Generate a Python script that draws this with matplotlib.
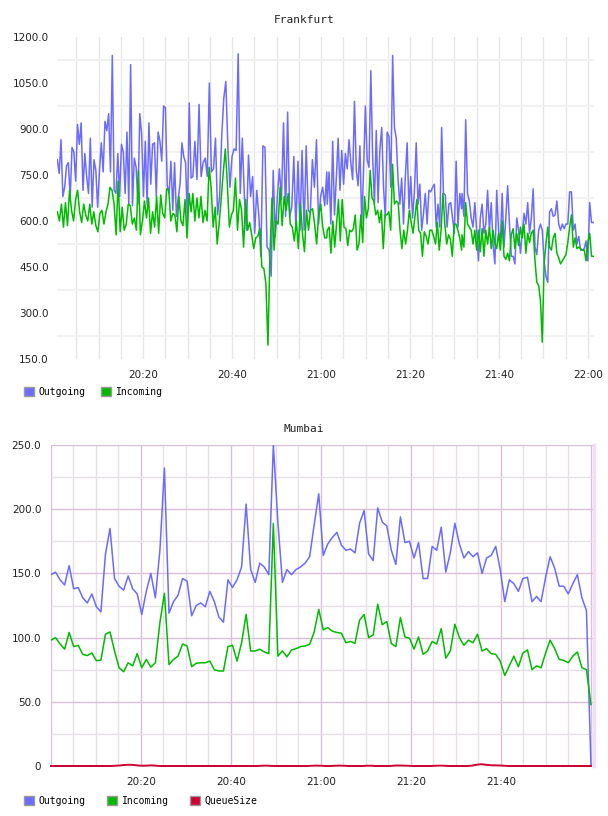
"""Frankfurt / Mumbai traffic charts."""
# %% Imports
from matplotlib import pyplot as plt
from matplotlib.patches import Patch
import numpy as np

# %% Data
# Frankfurt: four consecutive chunks per series, minutes after 20:00
fra_chunks = [(0.75, 30.8), (31.2, 61.3), (61.4, 91.6), (91.7, 121.2)]

fra_out_a = [800, 755, 865, 680, 710, 780, 790, 675, 840, 825, 730, 915, 850, 920, 700,
             820, 745, 690, 870, 645, 800, 765, 645, 765, 855, 760, 925, 895, 950, 760,
             1140, 700, 690, 820, 680, 850, 825, 690, 890, 655, 1110, 650, 805, 775, 655,
             950, 885, 680, 860, 655, 920, 720, 850, 855, 680, 890, 860, 795, 975, 970,
             715, 690, 795, 635, 790, 615, 675, 720, 855, 810, 790, 600, 985, 740]
fra_out_b = [745, 860, 735, 980, 745, 790, 805, 745, 1050, 760, 770, 870, 620, 680, 875,
             1000, 1055, 840, 710, 810, 835, 830, 1145, 690, 870, 680, 570, 815, 680, 745,
             560, 700, 620, 485, 845, 840, 515, 505, 420, 765, 550, 680, 770, 670, 920,
             615, 955, 615, 645, 810, 570, 795, 570, 830, 570, 845, 635, 625, 800, 710,
             865, 590, 680, 710, 650, 760]
fra_out_c = [655, 760, 590, 860, 620, 740, 870, 700, 830, 720, 820, 770, 865, 790, 735,
             990, 765, 715, 845, 590, 765, 975, 800, 775, 1090, 810, 655, 895, 660, 835,
             905, 710, 610, 890, 875, 710, 1140, 905, 870, 735, 655, 740, 590, 745, 855,
             640, 745, 610, 695, 855, 655, 720, 570, 625, 690, 590, 700, 695, 710, 720,
             580, 655, 580, 905, 690, 685, 580, 655, 660, 610, 560, 795, 580, 690, 640]
fra_out_d = [690, 615, 930, 690, 665, 610, 580, 660, 570, 470, 610, 655, 560, 590, 700,
             570, 660, 525, 460, 700, 570, 525, 690, 515, 610, 715, 590, 485, 485, 460,
             610, 570, 495, 560, 625, 590, 660, 560, 610, 705, 515, 490, 570, 590, 570,
             470, 420, 400, 630, 640, 615, 620, 665, 590, 570, 590, 575, 590, 590, 695,
             695, 570, 590, 525, 550, 505, 505, 510, 535, 470, 660, 595, 595]

fra_in_a = [630, 600, 655, 580, 660, 585, 700, 635, 600, 670, 700, 630, 595, 655, 620,
            600, 655, 590, 630, 585, 565, 625, 635, 590, 630, 655, 710, 700, 655, 555,
            730, 565, 645, 570, 590, 655, 650, 590, 610, 570, 765, 555, 600, 665, 610,
            675, 560, 630, 580, 680, 560, 685, 625, 610, 705, 700, 600, 625, 620, 565,
            680, 600, 585, 670, 545, 690, 630]
fra_in_b = [690, 600, 675, 610, 680, 595, 635, 600, 775, 710, 580, 645, 525, 595, 675,
            760, 835, 720, 580, 620, 635, 740, 570, 670, 635, 515, 670, 570, 595, 555,
            510, 545, 550, 575, 450, 445, 395, 195, 490, 675, 505, 600, 590, 710, 585,
            680, 635, 690, 590, 580, 535, 600, 510, 655, 560, 500, 635, 570, 635, 640,
            590, 525, 620, 655, 580, 545, 545]
fra_in_c = [570, 580, 495, 600, 515, 590, 670, 535, 670, 580, 575, 520, 570, 565, 575,
            620, 505, 525, 620, 530, 680, 610, 640, 765, 675, 665, 620, 635, 595, 635,
            510, 620, 620, 630, 570, 785, 655, 665, 660, 570, 510, 570, 525, 570, 635,
            595, 560, 615, 670, 570, 560, 485, 565, 550, 525, 570, 570, 550, 525, 595,
            505, 570, 690, 590, 525, 555, 540, 485, 590, 590, 570, 545, 505]
fra_in_d = [555, 515, 660, 590, 580, 570, 525, 570, 505, 570, 500, 575, 485, 570, 525,
            580, 510, 570, 525, 510, 560, 505, 600, 485, 475, 495, 470, 555, 575, 510,
            560, 520, 580, 545, 590, 495, 560, 530, 560, 570, 470, 400, 390, 340, 205,
            460, 525, 580, 515, 505, 545, 560, 495, 480, 460, 470, 480, 490, 530, 580,
            620, 515, 545, 510, 515, 510, 505, 505, 470, 530, 560, 485, 485]

# Mumbai: one sample per minute, 20:00 -> 22:00
mum_out = [149, 151, 145, 141, 156, 138, 139, 131, 127, 134, 124, 120, 165, 185, 146,
           140, 137, 148, 138, 134, 118, 136, 150, 131, 168, 232, 119, 128, 133, 146,
           144, 117, 125, 127, 124, 136, 128, 116, 112, 145, 139, 145, 155, 204, 153,
           143, 158, 155, 149, 250, 190, 143, 153, 149, 153, 155,
           158, 163, 188, 212, 164, 173, 178, 182, 172, 168, 169, 166, 189, 199, 165,
           160, 201, 190, 187, 168, 157, 194, 174, 175, 162, 174, 146, 146, 171, 168,
           186, 151, 166, 189, 173, 162, 167, 163, 166, 150, 162, 164, 171, 153, 128,
           145, 142, 136, 146, 147, 128, 132, 128, 147, 163, 154, 140, 140, 134, 142,
           149, 131, 121, 0]
mum_in = [98, 100, 95, 91, 104, 93, 94, 87, 86, 88, 82, 82.5, 102.6, 104.4, 89.6,
          76.5, 73.4, 80.4, 78, 87.5, 76.5, 83, 77, 80.4, 111.7, 134.5, 79, 83, 85.6, 95,
          93.5, 77.3, 80, 80.4, 80.4, 81.7, 75, 74, 74, 93, 94, 81.7, 96, 118, 89.6,
          89.6, 91, 88.8, 87.5, 188.9, 85.6, 89.6, 85, 90.4, 91.4, 93,
          93.5, 94.8, 104.4, 122, 106, 107.8, 105, 104, 103.4, 96, 97, 95.6, 113.6, 118, 100,
          102, 126, 110, 112.5, 95.3, 93, 115.7, 100.5, 99.5, 91, 100.5, 87, 89.6, 97, 95,
          107, 84, 89.6, 110.4, 100, 94, 98, 96, 102.6, 89.6, 91.4, 87.5, 87, 81.7, 70.5,
          78, 85.6, 77.3, 88, 90.4, 75, 78, 76.5, 88, 98, 91.4, 83, 82.3, 80.4, 85.6,
          88.8, 76.5, 75, 47.8]
mum_queue = [0, 0, 0, 0, 0, 0, 0, 0, 0, 0, 0, 0, 0, 0, 0.2,
             0.4, 0.8, 1.0, 0.8, 0.4, 0.2, 0.3, 0.5, 0.2, 0, 0, 0, 0, 0, 0,
             0, 0, 0, 0, 0, 0, 0, 0, 0, 0, 0, 0, 0, 0, 0,
             0, 0.2, 0.3, 0.1, 0, 0, 0, 0, 0, 0, 0,
             0, 0.2, 0.3, 0.2, 0, 0, 0.2, 0.3, 0.2, 0, 0, 0, 0, 0.2, 0.2,
             0, 0, 0, 0, 0.3, 0.4, 0.3, 0.2, 0, 0, 0, 0, 0, 0.2,
             0.3, 0.2, 0, 0, 0, 0, 0, 0.3, 1.0, 1.4, 1.0, 0.6, 0.5, 0.4, 0.2,
             0, 0, 0, 0, 0, 0, 0, 0, 0, 0, 0, 0, 0, 0, 0,
             0, 0, 0, 0]

fra_yticks = [150, 300, 450, 600, 750, 900, 1050, 1200]
fra_ylabels = ["150.0", "300.0", "450.0", "600.0", "750.0", "900.0", "1050.0", "1200.0"]
mum_yticks = [0, 50, 100, 150, 200, 250]
mum_ylabels = ["0", "50.0", "100.0", "150.0", "200.0", "250.0"]
x_ticks = [20, 40, 60, 80, 100, 120]
x_labels = ["20:20", "20:40", "21:00", "21:20", "21:40", "22:00"]

series_names = ["Outgoing", "Incoming", "QueueSize"]
series_colors = ["#6b6bff", "#00bb00", "#cc0033"]

# %% Figure
W, H = 608, 816
fig = plt.figure(figsize=(W / 100, H / 100), dpi=100)
mono = "DejaVu Sans Mono"


def chunk_times(chunks, parts):
    t = []
    for (t0, t1), vals in zip(chunks, parts):
        t.append(np.linspace(t0, t1, len(vals)))
    return np.concatenate(t)


# %% Frankfurt
ax1 = fig.add_axes([57 / W, 1 - 359 / H, 537 / W, 322 / H])
out_parts = [fra_out_a, fra_out_b, fra_out_c, fra_out_d]
in_parts = [fra_in_a, fra_in_b, fra_in_c, fra_in_d]
ax1.plot(chunk_times(fra_chunks, out_parts), np.concatenate(out_parts),
         color=series_colors[0], lw=1.1, zorder=3)
ax1.plot(chunk_times(fra_chunks, in_parts), np.concatenate(in_parts),
         color=series_colors[1], lw=1.1, zorder=4)
ax1.set_xlim(0.67, 121.35)
ax1.set_ylim(150, 1200)
ax1.set_yticks(fra_yticks)
ax1.set_yticklabels(fra_ylabels)
ax1.set_yticks([v + 75 for v in fra_yticks[:-1]], minor=True)
ax1.set_xticks(x_ticks)
ax1.set_xticklabels(x_labels)
ax1.set_xticks(np.arange(5, 121, 5), minor=True)
ax1.yaxis.grid(True, which="minor", color="#f0f0f0", lw=1.3)
ax1.xaxis.grid(True, which="both", color="#e6e6e6", lw=0.9)
for s in ax1.spines.values():
    s.set_visible(False)
ax1.tick_params(which="both", length=0, labelsize=7.5, colors="#222222")
ax1.tick_params(axis="y", pad=6)
ax1.tick_params(axis="x", pad=8)
ax1.set_axisbelow(True)
fig.text(304 / W, 1 - 20 / H, "Frankfurt", ha="center", va="center",
         family=mono, fontsize=8, color="#222222")

# %% Mumbai
ax2 = fig.add_axes([51 / W, 1 - 766 / H, 543 / W, 321 / H])
ax2.plot(np.linspace(0, 120, len(mum_out)), mum_out, color=series_colors[0], lw=1.1,
         zorder=3)
ax2.plot(np.linspace(0, 120, len(mum_in)), mum_in, color=series_colors[1], lw=1.1, zorder=4)
ax2.plot(np.linspace(0, 120, len(mum_queue)), mum_queue, color=series_colors[2], lw=1.4,
         zorder=5, clip_on=False)
ax2.set_xlim(0, 120.67)
ax2.set_ylim(0, 250)
ax2.set_yticks(mum_yticks)
ax2.set_yticklabels(mum_ylabels)
ax2.set_yticks([25, 75, 125, 175, 225], minor=True)
ax2.set_xticks([0] + x_ticks)
ax2.set_xticklabels([""] + x_labels[:-1] + [""])
ax2.set_xticks([t for t in range(5, 120, 5) if t % 20], minor=True)
ax2.grid(True, which="major", color="#d9bfd9", lw=1.0)
ax2.grid(True, which="minor", color="#e6e0e6", lw=1.0)
for s in ax2.spines.values():
    s.set_visible(False)
ax2.spines["right"].set_visible(True)
ax2.spines["right"].set_color("#f2e0f2")
ax2.spines["right"].set_linewidth(2.5)
ax2.tick_params(which="both", length=0, labelsize=7.5, colors="#222222")
ax2.tick_params(axis="y", pad=7)
ax2.tick_params(axis="x", pad=8)
ax2.set_axisbelow(True)
fig.text(304 / W, 1 - 429 / H, "Mumbai", ha="center", va="center",
         family=mono, fontsize=8, color="#222222")

# %% Legends
def add_legend(n, y, spacing):
    handles = [Patch(facecolor=c, edgecolor="#999999", lw=1) for c in series_colors[:n]]
    fig.legend(handles, series_names[:n], loc="center left",
               bbox_to_anchor=(24 / W, 1 - y / H), frameon=False, ncol=n,
               borderpad=0, borderaxespad=0, handlelength=1.0, handleheight=1.0,
               handletextpad=0.5, columnspacing=spacing,
               prop={"family": mono, "size": 7})


add_legend(2, 392, 1.6)
add_legend(3, 801, 2.2)

fig.savefig("out.png", dpi=100)
